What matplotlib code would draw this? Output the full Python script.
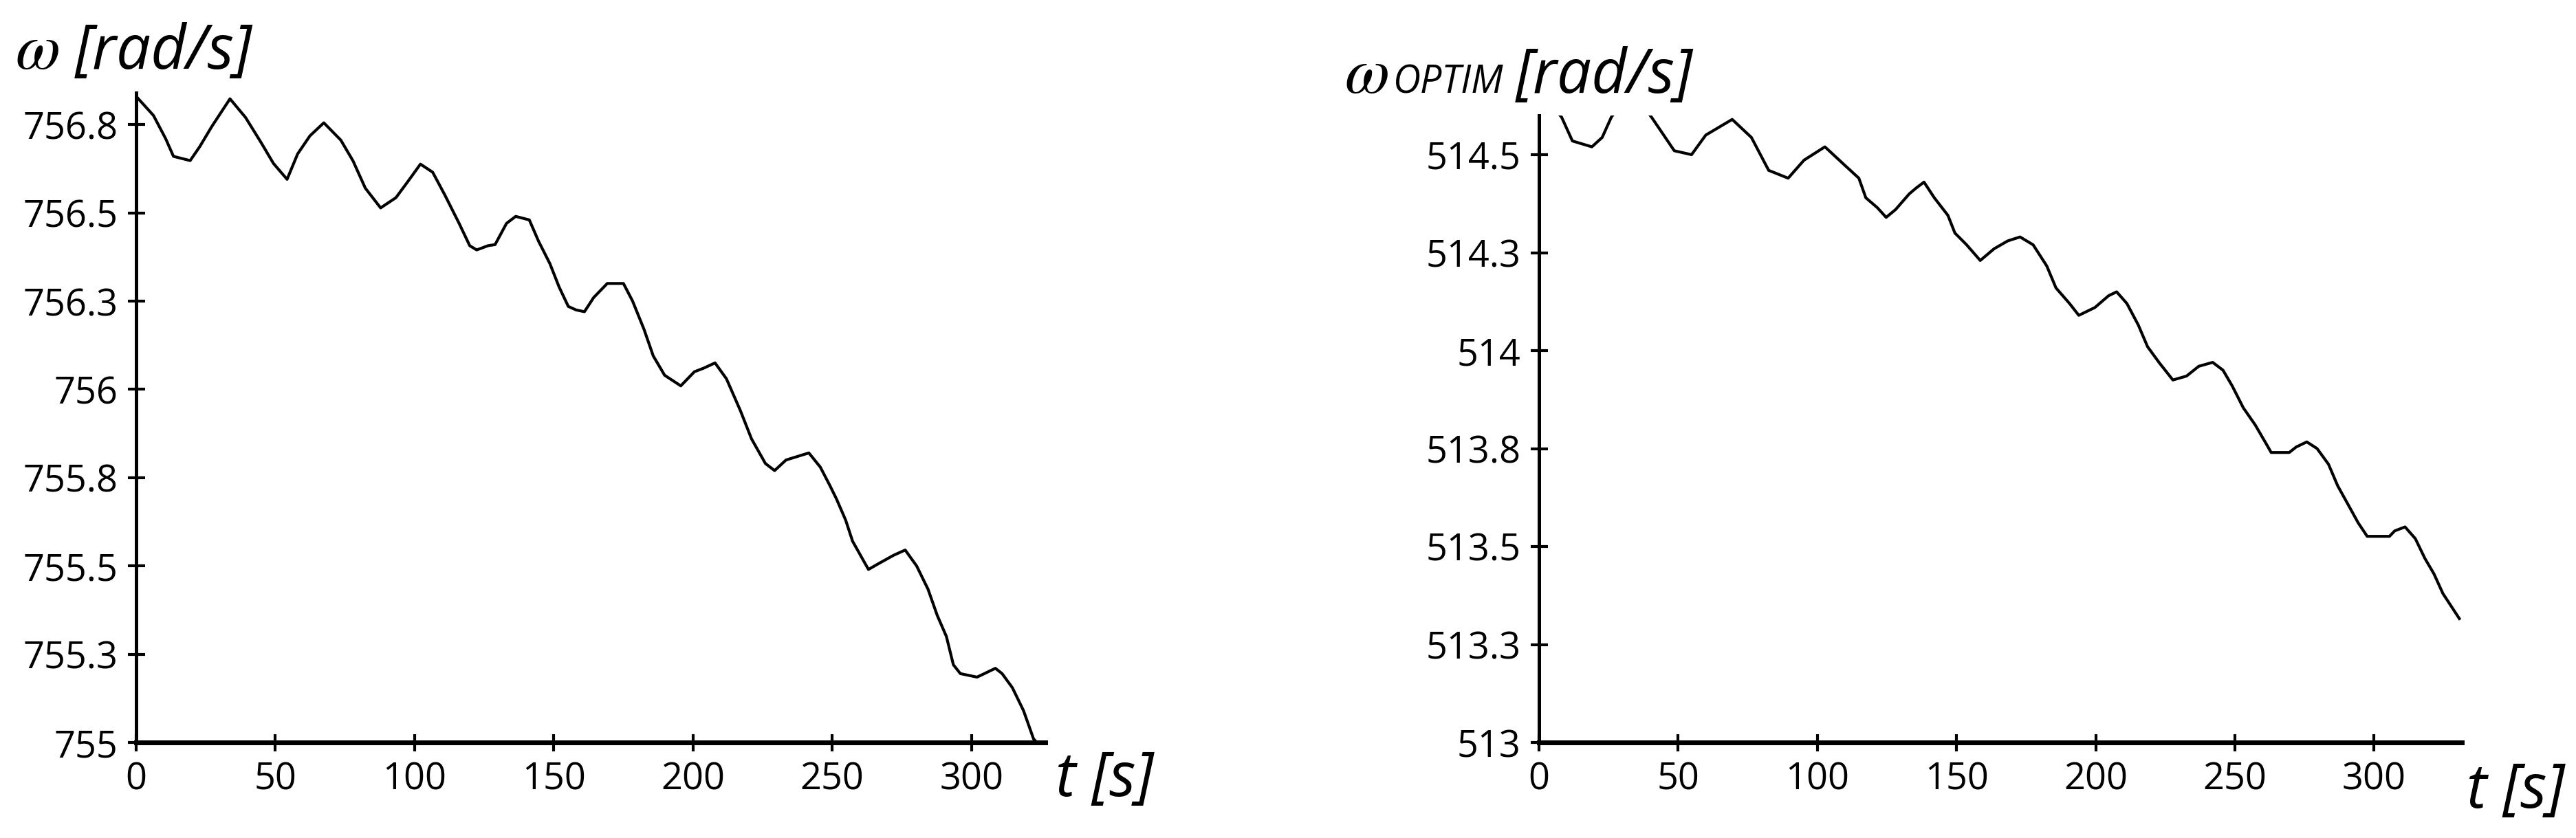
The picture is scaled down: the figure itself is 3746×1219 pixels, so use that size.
import matplotlib
matplotlib.use("Agg")
import matplotlib.pyplot as plt

plt.rcParams['font.family'] = ['Open Sans', 'DejaVu Sans']
plt.rcParams['mathtext.fontset'] = 'stix'

# left panel: omega over time
t_left = [0, 6.2, 10.6, 13.4, 19.4, 22.8, 27.2, 33.7, 39.3, 44.8,
          49.3, 54.2, 58, 62.4, 67.4, 73.5, 77.9, 82.3, 87.8, 93.3,
          97.7, 102.1, 106.5, 110.9, 116, 119.8, 122.3, 126.4, 128.9, 133,
          136.3, 141.2, 144.5, 148.6, 151.9, 155.2, 158, 161, 164.3, 169.2,
          175, 178.3, 182.4, 185.7, 189.8, 195.6, 200.5, 203.8, 207.9, 212,
          217, 221, 226, 229.3, 233.4, 237.5, 241.6, 245.7, 249, 251.5,
          254.8, 257.3, 260.5, 263, 266.3, 272, 276.2, 280.3, 284.4, 287.7,
          291, 293.5, 296, 302, 308.6, 311, 314.7, 318.7, 322.3, 323.5]
w_left = [756.83, 756.776, 756.71, 756.66, 756.648, 756.687, 756.745, 756.823, 756.77, 756.70,
          756.64, 756.595, 756.667, 756.718, 756.755, 756.706, 756.647, 756.57, 756.514, 756.543,
          756.59, 756.638, 756.615, 756.55, 756.47, 756.407, 756.395, 756.407, 756.41, 756.47,
          756.49, 756.48, 756.42, 756.356, 756.29, 756.235, 756.225, 756.22, 756.26, 756.30,
          756.30, 756.25, 756.17, 756.095, 756.04, 756.01, 756.05, 756.06, 756.075, 756.03,
          755.94, 755.86, 755.79, 755.77, 755.80, 755.81, 755.82, 755.78, 755.73, 755.69,
          755.63, 755.57, 755.525, 755.49, 755.505, 755.53, 755.545, 755.50, 755.434, 755.36,
          755.30, 755.22, 755.195, 755.185, 755.21, 755.195, 755.155, 755.09, 755.01, 755.0]

# right panel: optimal omega over time
t_right = [0, 8.1, 12, 19, 22.7, 26, 33, 40.4, 48.6, 54.8,
           59.9, 69.4, 76.3, 82.5, 89.5, 95.2, 102.7, 110.3, 114.9, 117.4,
           121.5, 124.7, 128.1, 133, 135.5, 138.3, 142, 146.9, 149.4, 153.6,
           158.5, 163.5, 168.4, 172.8, 177.5, 182.4, 185.7, 190.6, 193.9, 199.7,
           204.6, 207.5, 211.2, 215.3, 218.6, 222.7, 227.7, 232.6, 237, 242,
           245.7, 249, 253, 257.3, 261.4, 263, 269.5, 272, 275.8, 279.5,
           283.6, 286.9, 290.1, 294.3, 297.5, 305.5, 307.4, 311.1, 314.8, 318.2,
           321.5, 324.7, 330.6]
w_right = [514.66, 514.596, 514.535, 514.52, 514.544, 514.596, 514.66, 514.596, 514.51, 514.50,
           514.55, 514.59, 514.544, 514.46, 514.44, 514.486, 514.52, 514.47, 514.44, 514.39,
           514.365, 514.34, 514.36, 514.40, 514.415, 514.43, 514.39, 514.345, 514.30, 514.27,
           514.23, 514.26, 514.28, 514.29, 514.27, 514.216, 514.16, 514.12, 514.09, 514.11,
           514.14, 514.15, 514.12, 514.065, 514.01, 513.97, 513.925, 513.935, 513.96, 513.97,
           513.95, 513.91, 513.854, 513.81, 513.76, 513.74, 513.74, 513.754, 513.767, 513.75,
           513.71, 513.655, 513.614, 513.56, 513.526, 513.526, 513.54, 513.55, 513.52, 513.47,
           513.43, 513.38, 513.316]

x_ticks = [0, 50, 100, 150, 200, 250, 300]
y_ticks_left = [755, 755.25, 755.5, 755.75, 756, 756.25, 756.5, 756.75]
y_labels_left = ['755', '755.3', '755.5', '755.8', '756', '756.3', '756.5', '756.8']
y_ticks_right = [513, 513.25, 513.5, 513.75, 514, 514.25, 514.5]
y_labels_right = ['513', '513.3', '513.5', '513.8', '514', '514.3', '514.5']

W, H = 3746, 1219
fig = plt.figure(figsize=(W / 100, H / 100), dpi=100)

def px(x0, y_top, x1, y_bot):
    # figure fraction box from pixel edges
    return [x0 / W, 1 - y_bot / H, (x1 - x0) / W, (y_bot - y_top) / H]

ax1 = fig.add_axes(px(198, 135, 1520, 1080))
ax2 = fig.add_axes(px(2238, 168, 3580, 1080))

panels = [
    (ax1, t_left, w_left, (0, 326.5), (755, 756.84), y_ticks_left, y_labels_left),
    (ax2, t_right, w_right, (0, 331.5), (513, 514.6), y_ticks_right, y_labels_right),
]
for ax, t, w, xl, yl, yt, ylab in panels:
    ax.plot(t, w, color='black', lw=3)
    ax.set_xlim(*xl)
    ax.set_ylim(*yl)
    ax.set_xticks(x_ticks)
    ax.set_yticks(yt)
    ax.set_yticklabels(ylab)
    for s in ['top', 'right']:
        ax.spines[s].set_visible(False)
    ax.spines['left'].set_linewidth(3.6)
    ax.spines['bottom'].set_linewidth(5)
    ax.tick_params(direction='inout', length=18, width=3, labelsize=39)
    ax.tick_params(axis='y', pad=10)
    ax.tick_params(axis='x', pad=10)

lab = dict(fontsize=64, style='italic', va='baseline')
fig.text(22 / W, 1 - 100 / H, r'$\omega$', fontsize=68, va='baseline')
fig.text(109 / W, 1 - 100 / H, '[rad/s]', **lab)
fig.text(1955 / W, 1 - 135 / H, r'$\omega$', fontsize=68, va='baseline')
fig.text(2026 / W, 1 - 135 / H, 'OPTIM', fontsize=40, style='italic', va='baseline')
fig.text(2204 / W, 1 - 135 / H, '[rad/s]', **lab)
fig.text(1535 / W, 1 - 1158 / H, 't [s]', **lab)
fig.text(3587 / W, 1 - 1175 / H, 't [s]', **lab)

fig.savefig('out.png', dpi=100)
